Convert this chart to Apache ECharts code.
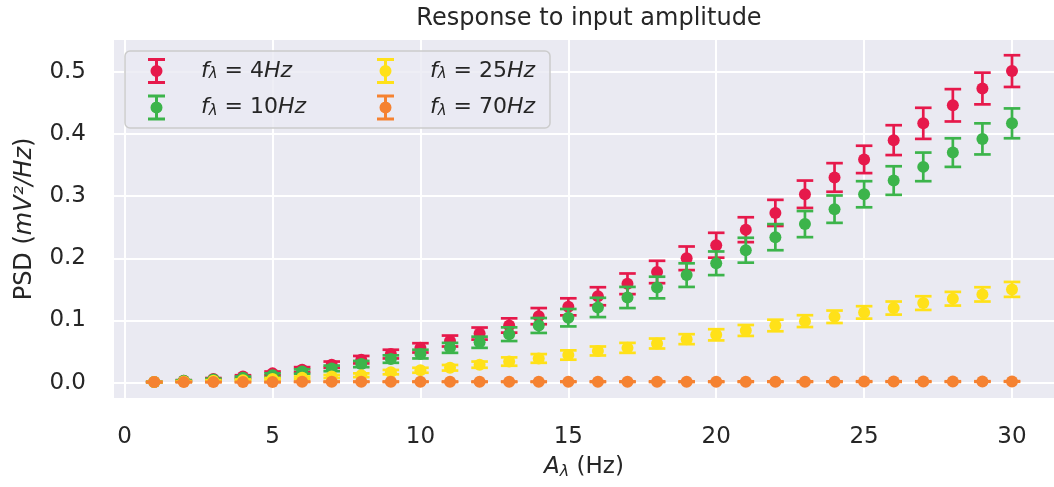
<!DOCTYPE html>
<html>
<head>
<meta charset="utf-8">
<script src="https://cdn.jsdelivr.net/npm/echarts@6/dist/echarts.min.js"></script>
<style>
  html, body { margin: 0; padding: 0; background: #fff; }
  #chart { width: 1054px; height: 487px; }
</style>
</head>
<body>
<div id="chart"></div>
<script>
// 输入幅值 (Hz)
var amps = [1, 2, 3, 4, 5, 6, 7, 8, 9, 10, 11, 12, 13, 14, 15,
  16, 17, 18, 19, 20, 21, 22, 23, 24, 25, 26, 27, 28, 29, 30]

// f = 4Hz
var psd4 = [0.001, 0.003, 0.006, 0.010, 0.015, 0.021, 0.029, 0.037, 0.046, 0.056,
  0.067, 0.079, 0.092, 0.107, 0.122, 0.139, 0.159, 0.178, 0.200, 0.221,
  0.246, 0.273, 0.303, 0.330, 0.359, 0.390, 0.417, 0.446, 0.473, 0.501]
var err4 = [0.0005, 0.001, 0.0015, 0.002, 0.003, 0.004, 0.005, 0.006, 0.007, 0.0075,
  0.0088, 0.0097, 0.0115, 0.013, 0.0137, 0.0145, 0.0166, 0.018, 0.019, 0.020,
  0.020, 0.021, 0.022, 0.023, 0.022, 0.024, 0.025, 0.026, 0.0255, 0.0255]

// f = 10Hz
var psd10 = [0.001, 0.003, 0.005, 0.008, 0.012, 0.018, 0.023, 0.030, 0.038, 0.046,
  0.056, 0.065, 0.078, 0.092, 0.1045, 0.121, 0.137, 0.153, 0.173, 0.192,
  0.213, 0.234, 0.255, 0.279, 0.303, 0.325, 0.347, 0.370, 0.392, 0.417]
var err10 = [0.0005, 0.001, 0.0015, 0.002, 0.003, 0.0035, 0.0045, 0.005, 0.006, 0.007,
  0.008, 0.009, 0.011, 0.012, 0.014, 0.0155, 0.017, 0.0174, 0.019, 0.019,
  0.020, 0.021, 0.021, 0.022, 0.021, 0.023, 0.023, 0.023, 0.025, 0.024]

// f = 25Hz
var psd25 = [0.001, 0.002, 0.003, 0.004, 0.006, 0.008, 0.010, 0.012, 0.017, 0.020,
  0.024, 0.029, 0.034, 0.039, 0.0445, 0.051, 0.056, 0.063, 0.070, 0.077,
  0.084, 0.092, 0.099, 0.106, 0.113, 0.120, 0.128, 0.135, 0.142, 0.150]
var err25 = [0.0003, 0.0005, 0.001, 0.0012, 0.0015, 0.002, 0.0025, 0.003, 0.0035, 0.004,
  0.0045, 0.005, 0.0067, 0.007, 0.0075, 0.0072, 0.008, 0.008, 0.008, 0.009,
  0.0088, 0.0093, 0.0095, 0.010, 0.010, 0.0105, 0.011, 0.011, 0.0115, 0.012]

// f = 70Hz
var psd70 = [0.001, 0.001, 0.001, 0.001, 0.001, 0.0015, 0.0015, 0.0015, 0.0015, 0.0015,
  0.0015, 0.0015, 0.0015, 0.0015, 0.0016, 0.0016, 0.0016, 0.0016, 0.0016, 0.0016,
  0.0017, 0.0017, 0.0017, 0.0017, 0.0018, 0.0018, 0.0018, 0.0018, 0.0019, 0.002]
var err70 = [0.0003, 0.0003, 0.0003, 0.0003, 0.0003, 0.0004, 0.0004, 0.0004, 0.0004, 0.0004,
  0.0004, 0.0004, 0.0004, 0.0004, 0.0005, 0.0005, 0.0005, 0.0005, 0.0005, 0.0005,
  0.0005, 0.0005, 0.0005, 0.0005, 0.0005, 0.0005, 0.0005, 0.0005, 0.0005, 0.0005]

var names = ['4Hz', '10Hz', '25Hz', '70Hz']
var colors = ['#e6194B', '#3cb44b', '#ffe119', '#f58231']

var textColor = '#262626'
var font = 'DejaVu Sans'

// 误差棒图例图标
var errIcon = 'path://M0 0H17V3H0Z M0 23H17V26H0Z M7 0H10V26H7Z M2.5 13A6 6 0 1 1 14.5 13A6 6 0 1 1 2.5 13Z'

function buildData(ys, es) {
  return amps.map(function (x, i) {
    return [x, ys[i], es[i]]
  })
}

function renderErr(params, api) {
  var x = api.value(0)
  var y = api.value(1)
  var e = api.value(2)
  var c = api.coord([x, y])
  var t = api.coord([x, y + e])
  var b = api.coord([x, y - e])
  var color = api.visual('color')
  var lw = 2.7
  var hw = 8.3
  return {
    type: 'group',
    children: [{
      type: 'line',
      shape: { x1: c[0], y1: t[1], x2: c[0], y2: b[1] },
      style: { stroke: color, lineWidth: lw }
    }, {
      type: 'line',
      shape: { x1: c[0] - hw, y1: t[1], x2: c[0] + hw, y2: t[1] },
      style: { stroke: color, lineWidth: lw }
    }, {
      type: 'line',
      shape: { x1: c[0] - hw, y1: b[1], x2: c[0] + hw, y2: b[1] },
      style: { stroke: color, lineWidth: lw }
    }, {
      type: 'circle',
      shape: { cx: c[0], cy: c[1], r: 6 },
      style: { fill: color }
    }]
  }
}

var allY = [psd4, psd10, psd25, psd70]
var allE = [err4, err10, err25, err70]

var series = names.map(function (n, i) {
  return {
    name: n,
    type: 'custom',
    renderItem: renderErr,
    itemStyle: { color: colors[i] },
    encode: { x: 0, y: 1 },
    data: buildData(allY[i], allE[i]),
    animation: false
  }
})

var legendRich = {
  sp: { width: 31, fontSize: 22 },
  i: { fontFamily: font, fontStyle: 'italic', fontSize: 22, color: textColor },
  sub: { fontFamily: font, fontStyle: 'italic', fontSize: 15, color: textColor, verticalAlign: 'bottom', lineHeight: 15 },
  n: { fontFamily: font, fontSize: 22, color: textColor }
}

function legendFormatter(name) {
  var num = name.replace('Hz', '')
  return '{sp| }{i|f}{sub|λ}{n| = ' + num + '}{i|Hz}'
}

var chart = echarts.init(document.getElementById('chart'), null, { renderer: 'canvas' })

var option = {
  backgroundColor: '#ffffff',
  animation: false,
  color: colors,
  title: {
    text: 'Response to input amplitude',
    left: 584,
    textAlign: 'center',
    top: 2,
    textStyle: { fontFamily: font, fontSize: 24, fontWeight: 'normal', color: textColor }
  },
  grid: {
    left: 114,
    right: 0,
    top: 40,
    bottom: 89,
    show: true,
    backgroundColor: '#eaeaf2',
    borderWidth: 0
  },
  graphic: [{
    type: 'rect',
    z: 50,
    shape: { x: 125, y: 51, width: 425, height: 77, r: 5 },
    style: { fill: 'rgba(234,234,242,0.8)', stroke: '#cccccc', lineWidth: 1.5 }
  }],
  legend: [{
    data: ['4Hz', '10Hz'],
    orient: 'vertical',
    left: 148,
    top: 58,
    padding: 0,
    z: 60,
    itemWidth: 17,
    itemHeight: 26,
    itemGap: 10.6,
    icon: errIcon,
    formatter: legendFormatter,
    textStyle: { rich: legendRich, fontSize: 22 }
  }, {
    data: ['25Hz', '70Hz'],
    orient: 'vertical',
    left: 377,
    top: 58,
    padding: 0,
    z: 60,
    itemWidth: 17,
    itemHeight: 26,
    itemGap: 10.6,
    icon: errIcon,
    formatter: legendFormatter,
    textStyle: { rich: legendRich, fontSize: 22 }
  }],
  xAxis: {
    type: 'value',
    min: -0.36,
    max: 31.42,
    name: '{i|A}{sub|λ}{n| (Hz)}',
    nameLocation: 'middle',
    nameGap: 56,
    nameTextStyle: {
      rich: {
        i: { fontFamily: font, fontStyle: 'italic', fontSize: 23, color: textColor, lineHeight: 26 },
        sub: { fontFamily: font, fontStyle: 'italic', fontSize: 16, color: textColor, verticalAlign: 'bottom', lineHeight: 17 },
        n: { fontFamily: font, fontSize: 23, color: textColor, lineHeight: 26 }
      }
    },
    axisLine: { show: false },
    axisTick: { show: false },
    splitLine: { show: true, showMinLine: false, showMaxLine: false, lineStyle: { color: '#ffffff', width: 2 } },
    axisLabel: {
      showMinLabel: false,
      showMaxLabel: false,
      margin: 28,
      fontFamily: font,
      fontSize: 23,
      color: textColor
    }
  },
  yAxis: {
    type: 'value',
    min: -0.0246,
    max: 0.551,
    name: '{n|PSD (}{i|mV²/Hz}{n|)}',
    nameLocation: 'middle',
    nameGap: 77,
    nameTextStyle: {
      rich: {
        i: { fontFamily: font, fontStyle: 'italic', fontSize: 24, color: textColor },
        n: { fontFamily: font, fontSize: 24, color: textColor }
      }
    },
    axisLine: { show: false },
    axisTick: { show: false },
    splitLine: { show: true, showMinLine: false, showMaxLine: false, lineStyle: { color: '#ffffff', width: 2 } },
    axisLabel: {
      showMinLabel: false,
      showMaxLabel: false,
      margin: 28,
      fontFamily: font,
      fontSize: 23,
      color: textColor,
      formatter: function (v) { return v.toFixed(1) }
    }
  },
  series: series
}

chart.setOption(option)
</script>
</body>
</html>
